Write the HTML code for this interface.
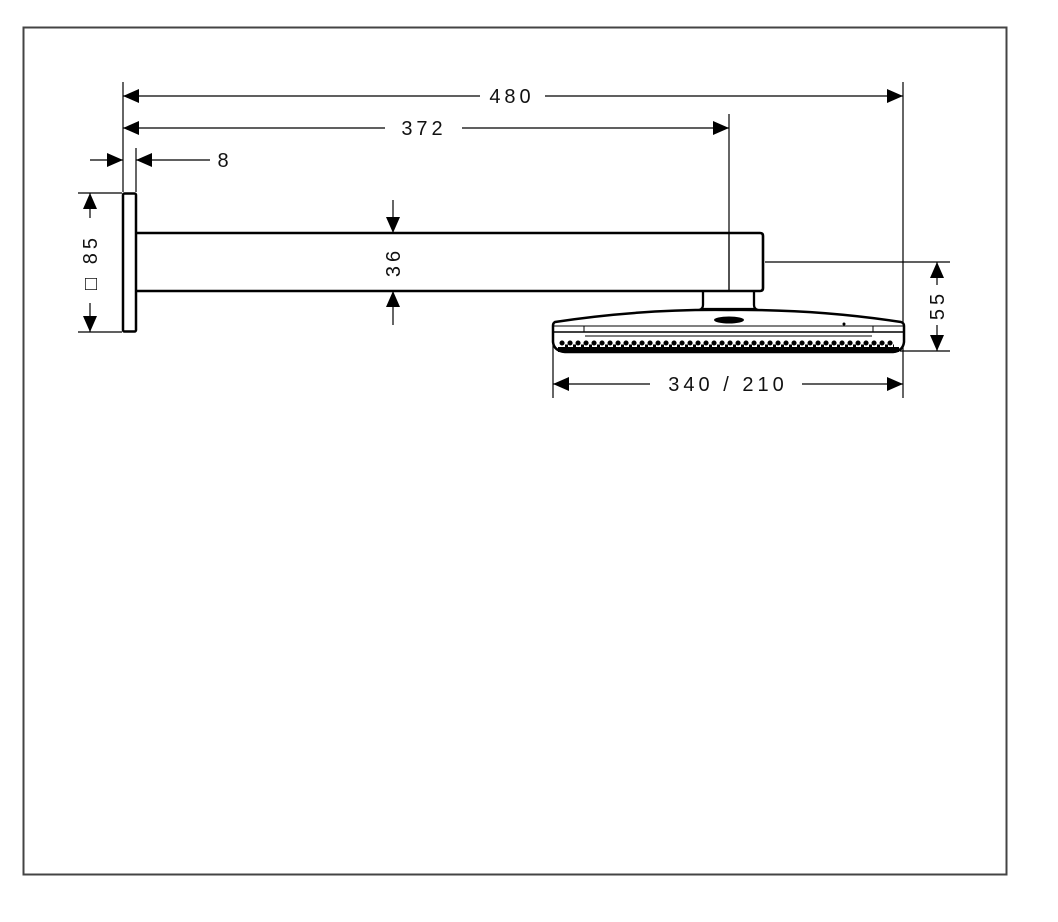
<!DOCTYPE html>
<html><head><style>
html,body{margin:0;padding:0;background:#fff;}
svg{display:block;}
text{font-family:"Liberation Sans",sans-serif;font-size:20px;fill:#111;letter-spacing:4px;}
</style></head><body>
<svg width="1058" height="922" viewBox="0 0 1058 922" xmlns="http://www.w3.org/2000/svg">
<defs>
<marker id="a" viewBox="0 0 16 14" refX="16" refY="7" markerWidth="16" markerHeight="14" markerUnits="userSpaceOnUse" orient="auto"><path d="M0,0 L16,7 L0,14 Z" fill="#000"/></marker>
</defs>
<rect x="23.5" y="27.5" width="983" height="847" fill="none" stroke="#444" stroke-width="2"/>
<g stroke="#000" stroke-width="1.2" fill="none">
<line x1="123" y1="82" x2="123" y2="192"/>
<line x1="136" y1="148" x2="136" y2="192"/>
<line x1="903" y1="82" x2="903" y2="398"/>
<line x1="729" y1="114" x2="729" y2="291"/>
<line x1="78" y1="193" x2="122" y2="193"/>
<line x1="78" y1="332" x2="122" y2="332"/>
<line x1="765" y1="262" x2="950" y2="262"/>
<line x1="900" y1="351" x2="950" y2="351"/>
<line x1="553" y1="345" x2="553" y2="398"/>
<line x1="480" y1="96" x2="123" y2="96" marker-end="url(#a)"/>
<line x1="545" y1="96" x2="903" y2="96" marker-end="url(#a)"/>
<line x1="385" y1="128" x2="123" y2="128" marker-end="url(#a)"/>
<line x1="462" y1="128" x2="729" y2="128" marker-end="url(#a)"/>
<line x1="90" y1="160" x2="123" y2="160" marker-end="url(#a)"/>
<line x1="210" y1="160" x2="136" y2="160" marker-end="url(#a)"/>
<line x1="90" y1="218" x2="90" y2="193" marker-end="url(#a)"/>
<line x1="90" y1="303" x2="90" y2="332" marker-end="url(#a)"/>
<line x1="393" y1="200" x2="393" y2="233" marker-end="url(#a)"/>
<line x1="393" y1="325" x2="393" y2="291" marker-end="url(#a)"/>
<line x1="937" y1="285" x2="937" y2="262" marker-end="url(#a)"/>
<line x1="937" y1="325" x2="937" y2="351" marker-end="url(#a)"/>
<line x1="650" y1="384" x2="553" y2="384" marker-end="url(#a)"/>
<line x1="802" y1="384" x2="903" y2="384" marker-end="url(#a)"/>
</g>
<rect x="123" y="193.5" width="13" height="138" rx="1.5" fill="#fff" stroke="#000" stroke-width="2.5"/>
<path d="M137,233 L760,233 Q763,233 763,236 L763,288 Q763,291 760,291 L137,291" fill="none" stroke="#000" stroke-width="2.6"/>
<line x1="729" y1="233" x2="729" y2="291" stroke="#000" stroke-width="1.2"/>
<path d="M703,292 L703,305 Q703,309 699,310 M754,292 L754,305 Q754,309 758,310 M703,309 L754,309" fill="none" stroke="#000" stroke-width="2.3"/>
<path d="M555,322 Q640,309 728,310 Q816,309 901,322 Q904,323 904,326 L904,342 Q903,351 893,352 L565,352 Q554,351 553,342 L553,326 Q553,323 555,322 Z" fill="#fff" stroke="#000" stroke-width="2.5"/>
<line x1="554" y1="326" x2="903" y2="326" stroke="#000" stroke-width="1"/>
<line x1="554" y1="332" x2="903" y2="332" stroke="#000" stroke-width="1.6"/>
<line x1="584" y1="326" x2="584" y2="332" stroke="#000" stroke-width="1"/>
<line x1="873" y1="326" x2="873" y2="332" stroke="#000" stroke-width="1"/>
<line x1="585" y1="336" x2="872" y2="336" stroke="#000" stroke-width="1"/>
<ellipse cx="729" cy="320" rx="15" ry="3.5" fill="#000"/>
<circle cx="844" cy="324" r="1.5" fill="#000"/>
<path d="M558,352 L899,352 L899,347 L558,347 Z" fill="#000"/>
<line x1="562" y1="343" x2="896" y2="343" stroke="#000" stroke-width="5" stroke-linecap="round" stroke-dasharray="0.1 7.9" fill="none"/>
<line x1="565" y1="346" x2="894" y2="346" stroke="#000" stroke-width="3" stroke-dasharray="3 5" fill="none"/>
<text x="512" y="103" text-anchor="middle">480</text>
<text x="424" y="135" text-anchor="middle">372</text>
<text x="225" y="167" text-anchor="middle">8</text>
<text x="728" y="391" text-anchor="middle">340 / 210</text>
<text transform="translate(97,262) rotate(-90)" text-anchor="middle">□ 85</text>
<text transform="translate(400,262) rotate(-90)" text-anchor="middle">36</text>
<text transform="translate(944,305) rotate(-90)" text-anchor="middle">55</text>
</svg>
</body></html>
